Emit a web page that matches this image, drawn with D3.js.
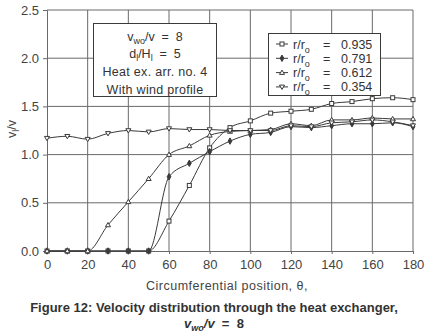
<!DOCTYPE html>
<html>
<head>
<meta charset="utf-8">
<script src="https://cdn.jsdelivr.net/npm/d3@7"></script>
<style>
  body { margin: 0; background: #fff; }
  svg { display: block; font-family: "Liberation Sans", Arial, sans-serif; }
  text { white-space: pre; }
</style>
</head>
<body>
<div id="chart"></div>
<script>
var width = 442,
    height = 332,
    margin = {top: 10, right: 29, bottom: 81, left: 47};

// circumferential position, degrees
var theta = [0, 10, 20, 30, 40, 50, 60, 70, 80, 90, 100, 110, 120, 130, 140, 150, 160, 170, 180];

// v_l / v for each radius
var r0935 = [0, 0, 0, 0, 0, 0, 0.31, 0.68, 1.07, 1.28, 1.35, 1.43, 1.45, 1.47, 1.53, 1.55, 1.58, 1.59, 1.57];
var r0791 = [0, 0, 0, 0, 0, 0, 0.77, 0.91, 1.03, 1.14, 1.21, 1.23, 1.29, 1.28, 1.30, 1.32, 1.32, 1.33, 1.29];
var r0612 = [0, 0, 0, 0.27, 0.51, 0.75, 1.00, 1.09, 1.20, 1.24, 1.25, 1.26, 1.32, 1.30, 1.36, 1.36, 1.38, 1.37, 1.37];
var r0354 = [1.17, 1.19, 1.16, 1.22, 1.25, 1.235, 1.27, 1.26, 1.26, 1.25, 1.25, 1.25, 1.30, 1.29, 1.33, 1.34, 1.36, 1.34, 1.30];

var seriesNames = ["0.935", "0.791", "0.612", "0.354"];
var seriesMarks = ["square", "dot", "up", "down"];
var seriesValues = [r0935, r0791, r0612, r0354];

var xTicks = [0, 20, 40, 60, 80, 100, 120, 140, 160, 180];
var yTicks = [0.0, 0.5, 1.0, 1.5, 2.0, 2.5];

var ink = "#3a3a3a", grid = "#6a6a6a";

var svg = d3.select("#chart").append("svg")
    .attr("width", width)
    .attr("height", height);

var w = width - margin.left - margin.right,
    h = height - margin.top - margin.bottom;

var g = svg.append("g")
    .attr("transform", "translate(" + margin.left + "," + margin.top + ")");

var x = d3.scaleLinear().domain([0, 180]).range([0, w]);
var y = d3.scaleLinear().domain([0, 2.5]).range([h, 0]);

// grid
g.append("g")
    .selectAll("line")
    .data(xTicks.slice(1))
    .enter().append("line")
    .attr("x1", function (d) { return x(d); })
    .attr("x2", function (d) { return x(d); })
    .attr("y1", 0).attr("y2", h)
    .attr("stroke", grid).attr("stroke-width", 1);

g.append("g")
    .selectAll("line")
    .data(yTicks.slice(1))
    .enter().append("line")
    .attr("x1", 0).attr("x2", w)
    .attr("y1", function (d) { return y(d); })
    .attr("y2", function (d) { return y(d); })
    .attr("stroke", grid).attr("stroke-width", 1);

// axes
var xAxis = g.append("g")
    .attr("transform", "translate(0," + h + ")")
    .call(d3.axisBottom(x).tickValues(xTicks).tickSize(3).tickPadding(6).tickFormat(d3.format("d")));

var yAxis = g.append("g")
    .call(d3.axisLeft(y).tickValues(yTicks).tickSize(4).tickPadding(4).tickFormat(d3.format(".1f")));

[xAxis, yAxis].forEach(function (a) {
    a.select(".domain").attr("stroke", grid);
    a.selectAll(".tick line").attr("stroke", grid);
    a.selectAll(".tick text")
        .attr("font-size", 13)
        .attr("font-family", "Liberation Sans, Arial, sans-serif")
        .attr("fill", "#444");
});

// lines
var line = d3.line()
    .x(function (d, i) { return x(theta[i]); })
    .y(function (d) { return y(d); })
    .curve(d3.curveMonotoneX);

g.append("g")
    .selectAll("path")
    .data(seriesValues)
    .enter().append("path")
    .attr("d", line)
    .attr("fill", "none")
    .attr("stroke", ink)
    .attr("stroke-width", 1);

function marker(sel, kind) {
    if (kind === "square") {
        sel.append("rect").attr("x", -2).attr("y", -2).attr("width", 4).attr("height", 4)
            .attr("fill", "#fff").attr("stroke", ink);
    } else if (kind === "dot") {
        sel.append("path").attr("d", d3.symbol(d3.symbolDiamond, 12)())
            .attr("fill", ink).attr("stroke", ink);
    } else if (kind === "up") {
        sel.append("path").attr("d", "M0,-2.5L2.5,1.8L-2.5,1.8Z")
            .attr("fill", "#fff").attr("stroke", ink);
    } else {
        sel.append("path").attr("d", "M0,2.5L2.5,-1.8L-2.5,-1.8Z")
            .attr("fill", "#fff").attr("stroke", ink);
    }
}

seriesValues.forEach(function (vals, k) {
    g.append("g")
        .selectAll("g")
        .data(vals)
        .enter().append("g")
        .attr("transform", function (d, i) { return "translate(" + x(theta[i]) + "," + y(d) + ")"; })
        .each(function () { marker(d3.select(this), seriesMarks[k]); });
});

// info box
var info = svg.append("g").attr("font-size", 12.5).attr("fill", "#333");
info.append("rect").attr("x", 93.5).attr("y", 23.5).attr("width", 123).attr("height", 73)
    .attr("fill", "#fff").attr("stroke", ink);
var t1 = info.append("text").attr("x", 155).attr("y", 41).attr("text-anchor", "middle");
t1.append("tspan").text("v");
t1.append("tspan").attr("font-size", 9).attr("dy", 3).text("wo");
t1.append("tspan").attr("dy", -3).text("/v  =  8");
var t2 = info.append("text").attr("x", 155).attr("y", 58).attr("text-anchor", "middle");
t2.append("tspan").text("d");
t2.append("tspan").attr("font-size", 9).attr("dy", 3).text("l");
t2.append("tspan").attr("dy", -3).text("/H");
t2.append("tspan").attr("font-size", 9).attr("dy", 3).text("l");
t2.append("tspan").attr("dy", -3).text("  =  5");
info.append("text").attr("x", 155).attr("y", 76).attr("text-anchor", "middle")
    .attr("letter-spacing", 0.3).text("Heat ex. arr. no. 4");
info.append("text").attr("x", 155).attr("y", 94).attr("text-anchor", "middle")
    .attr("letter-spacing", 0.3).text("With wind profile");

// legend
var leg = svg.append("g").attr("font-size", 12.5).attr("fill", "#333");
leg.append("rect").attr("x", 268.5).attr("y", 33.5).attr("width", 112).attr("height", 62)
    .attr("fill", "#fff").attr("stroke", ink);
seriesNames.forEach(function (name, k) {
    var yy = 44 + k * 14.3;
    var row = leg.append("g");
    row.append("line").attr("x1", 276).attr("x2", 288).attr("y1", yy).attr("y2", yy)
        .attr("stroke", ink);
    var m = row.append("g").attr("transform", "translate(282," + yy + ")");
    marker(m, seriesMarks[k]);
    var t = row.append("text").attr("x", 293).attr("y", yy + 4.5);
    t.append("tspan").text("r/r");
    t.append("tspan").attr("font-size", 9).attr("dy", 4).text("o");
    t.append("tspan").attr("dy", -4).attr("x", 323).text("=");
    t.append("tspan").attr("x", 341).text(name);
});

// axis titles
svg.append("text")
    .attr("transform", "translate(16,129) rotate(-90)")
    .attr("text-anchor", "middle").attr("font-size", 12.5).attr("fill", "#444")
    .call(function (t) {
        t.append("tspan").text("v");
        t.append("tspan").attr("font-size", 9).attr("dy", 3).text("l");
        t.append("tspan").attr("dy", -3).text("/v");
    });

svg.append("text")
    .attr("x", 227).attr("y", 290)
    .attr("text-anchor", "middle").attr("font-size", 12.5).attr("fill", "#444")
    .attr("letter-spacing", 0.5)
    .text("Circumferential position, \u03b8,");

// caption
svg.append("text")
    .attr("x", 214).attr("y", 312)
    .attr("text-anchor", "middle").attr("font-size", 13).attr("font-weight", "bold").attr("fill", "#333")
    .text("Figure 12: Velocity distribution through the heat exchanger,");

var cap2 = svg.append("text")
    .attr("x", 214).attr("y", 328)
    .attr("text-anchor", "middle").attr("font-size", 13).attr("font-weight", "bold").attr("fill", "#333");
cap2.append("tspan").attr("font-style", "italic").text("v");
cap2.append("tspan").attr("font-size", 9).attr("font-style", "italic").attr("dy", 3).text("wo");
cap2.append("tspan").attr("dy", -3).attr("font-style", "italic").text("/v");
cap2.append("tspan").text("  =  8");
</script>
</body>
</html>
